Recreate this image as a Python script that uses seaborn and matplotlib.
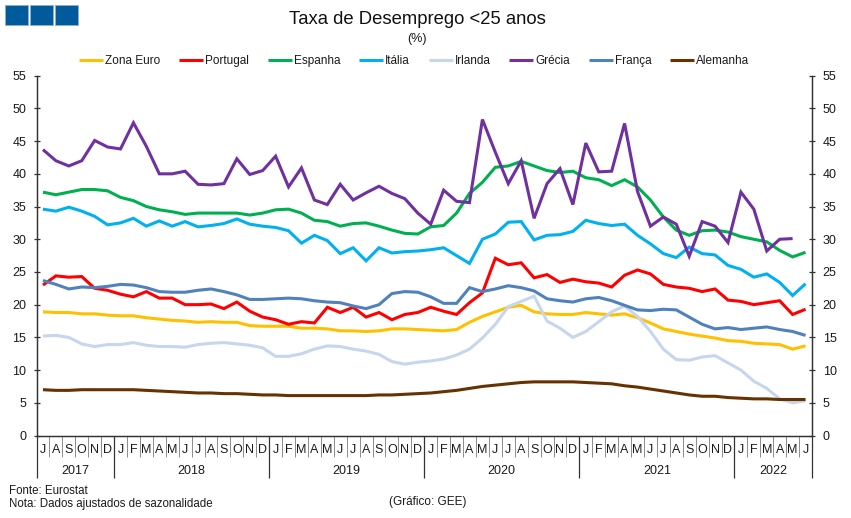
#!/usr/bin/env python3
# -*- coding: utf-8 -*-
"""Taxa de Desemprego <25 anos - line chart with seaborn."""

import numpy as np
import pandas as pd
import matplotlib
matplotlib.use("Agg")
import matplotlib.pyplot as plt
from matplotlib.patches import Rectangle
import seaborn as sns

MONTHS = list("JASOND") + list("JFMAMJJASOND") * 4 + list("JFMAMJ")
YEARS = ["2017", "2018", "2019", "2020", "2021", "2022"]
YEAR_LENGTHS = [6, 12, 12, 12, 12, 6]

ZONA_EURO = [18.9, 18.8, 18.8, 18.6, 18.6, 18.4,
             18.3, 18.3, 18.0, 17.8, 17.6, 17.5, 17.3, 17.4, 17.3, 17.3, 16.8, 16.7,
             16.7, 16.7, 16.4, 16.4, 16.3, 16.0, 16.0, 15.9, 16.0, 16.3, 16.3, 16.2,
             16.1, 16.0, 16.2, 17.3, 18.2, 18.9, 19.6, 19.9, 18.9, 18.6, 18.5, 18.5,
             18.8, 18.6, 18.4, 18.6, 18.0, 17.2, 16.3, 15.9, 15.5, 15.2, 14.9, 14.5,
             14.4, 14.1, 14.0, 13.9, 13.2, 13.7]
PORTUGAL = [23.0, 24.4, 24.2, 24.3, 22.5, 22.2,
            21.6, 21.2, 22.0, 21.0, 21.0, 20.0, 20.0, 20.1, 19.4, 20.4, 19.0, 18.1,
            17.7, 17.0, 17.4, 17.2, 19.6, 18.8, 19.6, 18.1, 18.8, 17.7, 18.5, 18.8,
            19.6, 19.0, 18.5, 20.3, 21.8, 27.1, 26.1, 26.4, 24.1, 24.6, 23.4, 23.9,
            23.5, 23.3, 22.7, 24.5, 25.3, 24.7, 23.1, 22.7, 22.5, 22.0, 22.4, 20.7,
            20.5, 20.0, 20.3, 20.6, 18.5, 19.3]
ESPANHA = [37.2, 36.8, 37.2, 37.6, 37.6, 37.4,
           36.4, 35.9, 35.0, 34.5, 34.2, 33.8, 34.0, 34.0, 34.0, 34.0, 33.7, 34.0,
           34.5, 34.6, 34.0, 32.9, 32.7, 32.0, 32.4, 32.5, 32.0, 31.4, 30.9, 30.8,
           31.9, 32.1, 34.0, 37.0, 38.7, 41.0, 41.2, 41.9, 41.2, 40.5, 40.2, 40.4,
           39.4, 39.1, 38.2, 39.1, 38.0, 36.0, 33.4, 31.4, 30.6, 31.3, 31.4, 31.1,
           30.4, 30.0, 29.6, 28.3, 27.3, 28.0]
ITALIA = [34.6, 34.3, 34.9, 34.3, 33.5, 32.2,
          32.5, 33.2, 32.0, 32.8, 32.0, 32.7, 31.9, 32.1, 32.4, 33.1, 32.3, 32.0,
          31.8, 31.3, 29.4, 30.6, 29.8, 27.8, 28.7, 26.7, 28.7, 27.9, 28.1, 28.2,
          28.4, 28.7, 27.5, 26.3, 30.0, 30.8, 32.6, 32.7, 29.9, 30.6, 30.7, 31.2,
          32.9, 32.4, 32.1, 32.3, 30.6, 29.3, 27.8, 27.2, 28.8, 27.8, 27.6, 26.0,
          25.4, 24.2, 24.7, 23.4, 21.4, 23.2]
IRLANDA = [15.2, 15.3, 15.0, 14.0, 13.6, 13.9,
           13.9, 14.2, 13.8, 13.6, 13.6, 13.5, 13.9, 14.1, 14.2, 14.0, 13.8, 13.4,
           12.1, 12.1, 12.5, 13.2, 13.7, 13.6, 13.2, 12.9, 12.4, 11.3, 10.9, 11.2,
           11.4, 11.7, 12.3, 13.2, 14.9, 17.0, 19.7, 20.5, 21.3, 17.5, 16.4, 15.0,
           15.9, 17.4, 18.9, 19.8, 18.2, 15.9, 13.2, 11.6, 11.5, 12.0, 12.2, 11.1,
           10.0, 8.3, 7.2, 5.6, 5.0, 5.3]
GRECIA = [43.7, 42.0, 41.2, 42.0, 45.1, 44.1,
          43.8, 47.8, 44.2, 40.0, 40.0, 40.4, 38.4, 38.3, 38.5, 42.3, 39.9, 40.5,
          42.7, 38.0, 40.9, 36.0, 35.3, 38.4, 36.0, 37.1, 38.1, 37.0, 36.2, 34.0,
          32.3, 37.5, 35.8, 35.6, 48.3, 43.3, 38.5, 42.0, 33.2, 38.5, 40.8, 35.3,
          44.7, 40.3, 40.4, 47.7, 37.3, 32.0, 33.4, 32.3, 27.4, 32.7, 32.0, 29.5,
          37.2, 34.6, 28.2, 30.0, 30.1, np.nan]
FRANCA = [23.7, 23.1, 22.4, 22.7, 22.6, 22.8,
          23.1, 23.0, 22.6, 22.0, 21.9, 21.9, 22.2, 22.4, 22.0, 21.5, 20.8, 20.8,
          20.9, 21.0, 20.9, 20.6, 20.4, 20.3, 19.8, 19.4, 20.0, 21.7, 22.0, 21.9,
          21.2, 20.2, 20.2, 22.6, 22.0, 22.4, 22.9, 22.6, 22.1, 20.9, 20.6, 20.4,
          20.9, 21.1, 20.6, 19.9, 19.2, 19.1, 19.3, 19.2, 18.1, 17.0, 16.3, 16.5,
          16.2, 16.4, 16.6, 16.2, 15.9, 15.3]
ALEMANHA = [7.0, 6.9, 6.9, 7.0, 7.0, 7.0,
            7.0, 7.0, 6.9, 6.8, 6.7, 6.6, 6.5, 6.5, 6.4, 6.4, 6.3, 6.2,
            6.2, 6.1, 6.1, 6.1, 6.1, 6.1, 6.1, 6.1, 6.2, 6.2, 6.3, 6.4,
            6.5, 6.7, 6.9, 7.2, 7.5, 7.7, 7.9, 8.1, 8.2, 8.2, 8.2, 8.2,
            8.1, 8.0, 7.9, 7.6, 7.4, 7.1, 6.8, 6.5, 6.2, 6.0, 6.0, 5.8,
            5.7, 5.6, 5.6, 5.5, 5.5, 5.5]

COLORS = {
    "Zona Euro": "#FFC000",
    "Portugal": "#FF0000",
    "Espanha": "#00B050",
    "Itália": "#00B0F0",
    "Irlanda": "#C6D6EC",
    "Grécia": "#7030A0",
    "França": "#4F81BD",
    "Alemanha": "#663300",
}

W, H = 851, 518
TEXT_COLOR = "#1a1a1a"

sns.set_theme(style="white")
plt.rcParams["font.family"] = ["Liberation Sans", "DejaVu Sans"]

df = pd.DataFrame({
    "mes": np.arange(len(MONTHS)),
    "Zona Euro": ZONA_EURO,
    "Portugal": PORTUGAL,
    "Espanha": ESPANHA,
    "Itália": ITALIA,
    "Irlanda": IRLANDA,
    "Grécia": GRECIA,
    "França": FRANCA,
    "Alemanha": ALEMANHA,
})
long_df = df.melt(id_vars="mes", var_name="pais", value_name="taxa").dropna()

fig = plt.figure(figsize=(W / 100, H / 100), dpi=100, facecolor="white")
ax = fig.add_axes([36.5 / W, 1 - 435.5 / H, (812 - 36.5) / W, (435.5 - 75.7) / H])

sns.lineplot(data=long_df, x="mes", y="taxa", hue="pais", hue_order=list(COLORS),
             palette=COLORS, estimator=None, errorbar=None, sort=False,
             linewidth=2.2, ax=ax, solid_joinstyle="miter", solid_capstyle="butt")

ax.set_xlim(-0.5, len(MONTHS) - 0.5)
ax.set_ylim(0, 55)
ax.set_xlabel("")
ax.set_ylabel("")

# eixo y, repetido a direita
yticks = np.arange(0, 60, 5)
ax.set_yticks(yticks)
ax.tick_params(axis="y", direction="inout", length=4.5, width=0.9, color="#333333",
               labelsize=9, labelcolor=TEXT_COLOR, pad=5, left=True)
ax2 = ax.twinx()
ax2.set_ylim(ax.get_ylim())
ax2.set_yticks(yticks)
ax2.tick_params(axis="y", direction="inout", length=4.5, width=0.9, color="#333333",
                labelsize=9, labelcolor=TEXT_COLOR, pad=5.5, right=True)

for a in (ax, ax2):
    a.spines["top"].set_visible(False)
    a.grid(False)
    for side in ("left", "right", "bottom"):
        a.spines[side].set_color("#333333")
        a.spines[side].set_linewidth(0.9)

# separadores: meses (curtos) e anos (longos)
month_edges = np.arange(len(MONTHS) + 1) - 0.5
year_edges = np.concatenate([[0], np.cumsum(YEAR_LENGTHS)]) - 0.5
ax.set_xticks(year_edges)
ax.set_xticklabels([])
ax.set_xticks(month_edges, minor=True)
ax.tick_params(axis="x", which="major", direction="out", length=30, width=0.9,
               color="#333333", bottom=True)
ax.tick_params(axis="x", which="minor", direction="out", length=15, width=0.7,
               color="#8c8c8c", bottom=True)

# rotulos dos meses e dos anos
sec_months = ax.secondary_xaxis("bottom")
sec_months.set_xticks(np.arange(len(MONTHS)), labels=MONTHS)
sec_months.tick_params(axis="x", length=0, pad=6, labelsize=9, labelcolor=TEXT_COLOR)
sec_months.spines["bottom"].set_visible(False)

year_centers = (year_edges[:-1] + year_edges[1:]) / 2
sec_years = ax.secondary_xaxis("bottom")
sec_years.set_xticks(year_centers, labels=YEARS)
sec_years.tick_params(axis="x", length=0, pad=21, labelsize=9, labelcolor=TEXT_COLOR)
sec_years.spines["bottom"].set_visible(False)

# legenda
handles, labels = ax.get_legend_handles_labels()
leg = ax.legend(handles, labels, ncol=len(COLORS), frameon=False, fontsize=8.5,
                loc="center", bbox_to_anchor=(414 / W, 1 - 61 / H),
                bbox_transform=fig.transFigure, handlelength=2.05, handletextpad=0.15,
                columnspacing=1.6, borderpad=0, borderaxespad=0)
for t in leg.get_texts():
    t.set_color(TEXT_COLOR)

# titulos e notas
fig.text(417 / W, 1 - 20 / H, "Taxa de Desemprego <25 anos", ha="center", va="center",
         fontsize=13.3, color="#111111")
fig.text(417 / W, 1 - 39 / H, "(%)", ha="center", va="center", fontsize=9, color=TEXT_COLOR)
fig.text(9 / W, 1 - 491 / H, "Fonte: Eurostat", ha="left", va="center", fontsize=8.3, color=TEXT_COLOR)
fig.text(9 / W, 1 - 504 / H, "Nota: Dados ajustados de sazonalidade", ha="left", va="center",
         fontsize=8.3, color=TEXT_COLOR)
fig.text(428 / W, 1 - 502 / H, "(Gráfico: GEE)", ha="center", va="center", fontsize=8.5, color=TEXT_COLOR)

# logotipo: tres quadrados azuis
for x0 in (5, 30, 55):
    fig.patches.append(Rectangle((x0 / W, 1 - 25 / H), 23 / W, 20 / H, transform=fig.transFigure,
                                 facecolor="#005A9C", edgecolor="#8fb0c8", linewidth=0.6, figure=fig))

fig.savefig("out.png", dpi=100)
